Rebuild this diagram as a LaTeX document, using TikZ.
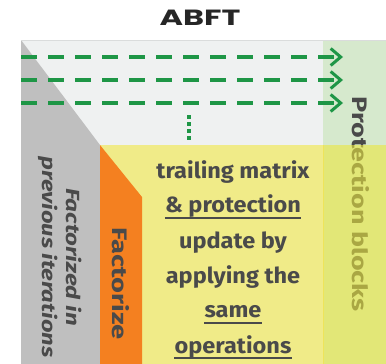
\documentclass[tikz,border=0pt]{standalone}
\usepackage{fontspec}
\setmainfont{Fira Sans}
\newfontfamily\titlef{Poppins}
\usetikzlibrary{arrows.meta}
\definecolor{txt}{RGB}{74,74,74}
\definecolor{topbg}{RGB}{239,241,241}
\definecolor{topline}{RGB}{218,220,220}
\definecolor{grayc}{RGB}{191,191,191}
\definecolor{orangec}{RGB}{244,128,32}
\definecolor{yellowc}{RGB}{240,235,136}
\definecolor{greenc}{RGB}{214,233,205}
\definecolor{overc}{RGB}{234,230,63}
\definecolor{sepc}{RGB}{238,228,90}
\definecolor{arrowc}{RGB}{30,150,70}
\newcommand{\wide}[2]{\scalebox{#1}[1]{#2}}
\tikzset{
  maintext/.style={anchor=base, inner sep=0pt, text=txt, font=\bfseries\fontsize{22}{22}\selectfont},
  ul/.style={draw=txt, line width=2pt},
  flow/.style={draw=arrowc, line width=3.5pt, dash pattern=on 16pt off 11pt,
    -{Straight Barb[length=10pt,width=17pt,line width=3pt]}},
  sidetext/.style={anchor=base, inner sep=0pt, rotate=-90, text=txt},
}
\begin{document}
\begin{tikzpicture}[x=1pt,y=-1pt]
\useasboundingbox (0,0) rectangle (386,364);
% regions
\fill[topbg] (21,40) rectangle (323,145);
\fill[greenc] (323,40) rectangle (386,364);
\fill[yellowc] (100,145) rectangle (323,364);
\fill[grayc] (21,40) -- (100,145) -- (100,364) -- (21,364) -- cycle;
\fill[orangec] (100,145) -- (142,197) -- (142,364) -- (100,364) -- cycle;
\draw[topline, line width=1.5pt] (21,40.5) -- (386,40.5);
% protection text
\node[sidetext, font=\bfseries\fontsize{21}{21}\selectfont] (prot) at (352,204) {\wide{1.28}{Protection blocks}};
\fill[overc, opacity=0.6] (323,145) rectangle (386,364);
\draw[sepc, line width=1pt] (323,145) -- (323,364);
% arrows
\coordinate (a1s) at (21,57);  \coordinate (a1e) at (343,57);
\coordinate (a2s) at (21,80);  \coordinate (a2e) at (343,80);
\coordinate (a3s) at (21,103); \coordinate (a3e) at (343,103);
\draw[flow] (a1s) -- (a1e);
\draw[flow] (a2s) -- (a2e);
\draw[flow] (a3s) -- (a3e);
\coordinate (d1) at (189,115); \coordinate (d2) at (189,142);
\draw[arrowc, line width=3.5pt, dash pattern=on 4pt off 3pt] (d1) -- (d2);
% title
\node[anchor=base, inner sep=0pt, text=black!85, font=\titlef\bfseries\fontsize{22}{22}\selectfont] (title) at (200,26) {\wide{1.45}{ABFT}};
% side texts
\node[sidetext, font=\bfseries\itshape\fontsize{19}{19}\selectfont] (fp1) at (66,257) {\wide{1.27}{Factorized in}};
\node[sidetext, font=\bfseries\itshape\fontsize{19}{19}\selectfont] (fp2) at (42,257) {\wide{1.25}{previous iterations}};
\node[sidetext, font=\bfseries\fontsize{21}{21}\selectfont] (fac) at (112,283.5) {\wide{1.3}{Factorize}};
% main text
\node[maintext] (l1) at (233,178) {\wide{1.07}{trailing matrix}};
\node[maintext] (l2) at (233,212) {\wide{1.07}{\& protection}};
\node[maintext] (l3) at (233,248) {\wide{1.07}{update by}};
\node[maintext] (l4) at (233,283) {\wide{1.07}{applying the}};
\node[maintext] (l5) at (233,317) {\wide{1.07}{same}};
\node[maintext] (l6) at (233,353) {\wide{1.07}{operations}};
\draw[ul] ([yshift=-5.5pt]l2.base west) -- ([yshift=-5.5pt]l2.base east);
\draw[ul] ([yshift=-6pt]l5.base west) -- ([yshift=-6pt]l5.base east);
\draw[ul] ([yshift=-4.5pt]l6.base west) -- ([yshift=-4.5pt]l6.base east);
\end{tikzpicture}
\end{document}
